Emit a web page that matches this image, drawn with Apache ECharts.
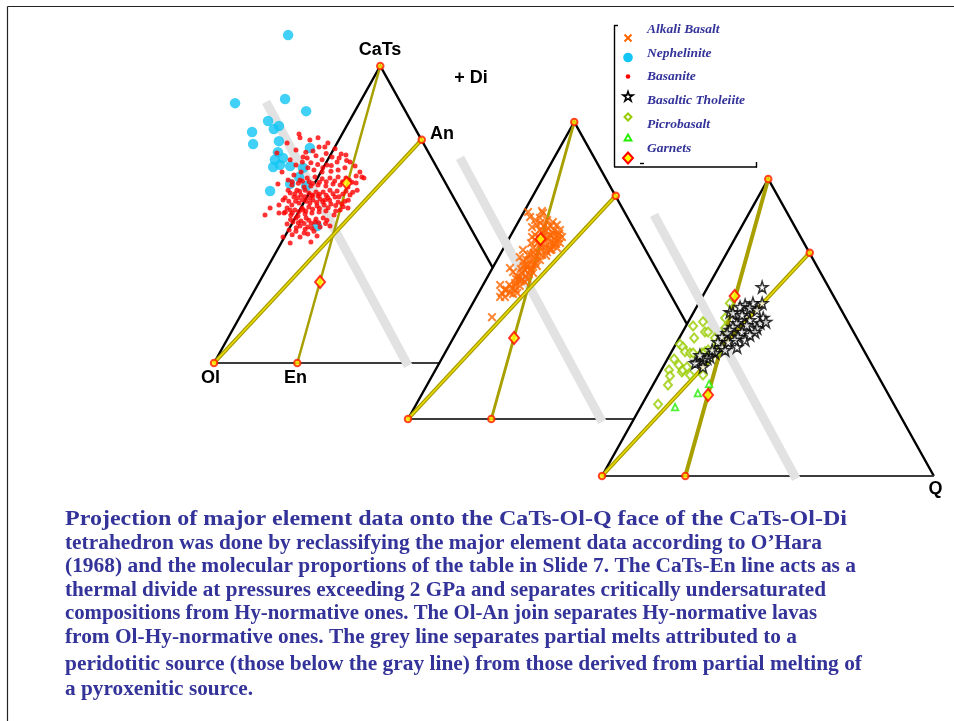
<!DOCTYPE html>
<html>
<head>
<meta charset="utf-8">
<script src="https://cdn.jsdelivr.net/npm/echarts@6/dist/echarts.min.js"></script>
<style>
  html, body { margin: 0; padding: 0; background: #fff; }
  #chart { width: 954px; height: 721px; }
</style>
</head>
<body>
<div id="chart"></div>
<script>
// Diagram-plane coordinates for the CaTs-Ol-Q projection:
// x runs along the Ol-Q base, y is the height toward the CaTs apex (0 = base, 100 = apex).
const vertexOl   = [0, 0];
const vertexQ    = [97.6, 0];
const vertexCaTs = [48.9, 100];
const vertexEn   = [24.5, 0];
const vertexAn   = [61.1, 75.2];

// Garnet compositions (plotted on each face)
const garnets = [[39.0, 60.6], [31.2, 27.3]];

// Grey divide between peridotite- and pyroxenite-derived melts
const greyDivide = [[15.3, 87.9], [57.1, -1.0]];

// Face 1: Nephelinite and Basanite
const nephelinite = [
  [21.8,110.4],[6.2,87.5],[20.9,88.9],[27.1,84.8],[15.9,81.5],[19.1,79.8],[17.6,78.8],
  [11.2,77.8],[11.5,73.7],[19.1,74.7],[18.8,71.0],[17.9,68.4],[20.3,69.0],[17.4,66.0],
  [19.4,66.7],[22.4,66.3],[26.2,65.7],[25.0,62.6],[16.5,57.9],[22.4,60.3],[27.1,59.6],
  [30.3,46.1],[28.2,72.4]
];
const basanite = [
  [25.0,77.1],[25.3,75.8],[21.5,74.1],[33.5,74.1],[18.5,70.7],[29.1,71.4],[26.2,69.4],
  [27.4,69.0],[24.1,66.7],[30.9,72.7],[35.6,72.1],[37.4,70.4],[34.7,69.4],[38.8,70.0],
  [31.8,68.4],[33.2,66.7],[36.2,67.7],[40.0,67.7],[41.5,66.3],[42.9,64.3],[43.5,62.6],
  [41.8,63.0],[38.5,65.7],[36.5,65.0],[34.4,64.6],[31.8,64.3],[29.4,65.0],[27.6,65.7],
  [25.6,64.3],[23.5,63.3],[21.8,61.6],[22.9,59.9],[25.3,61.6],[27.4,62.3],[29.7,62.6],
  [31.8,62.0],[34.1,62.3],[36.5,62.6],[38.8,62.3],[40.6,60.9],[39.4,59.3],[37.1,59.9],
  [35.0,60.3],[32.9,59.6],[30.6,59.9],[28.5,59.6],[26.5,59.3],[24.4,58.2],[22.4,57.2],
  [20.9,55.6],[23.5,55.9],[25.6,56.6],[27.9,57.2],[30.0,57.6],[32.1,57.6],[34.1,58.2],
  [36.2,57.9],[37.9,56.9],[35.6,55.9],[33.5,55.6],[31.2,55.2],[29.1,54.9],[27.1,54.5],
  [25.0,53.9],[22.9,53.2],[21.5,52.2],[23.8,51.5],[25.9,52.2],[27.9,52.5],[30.3,52.9],
  [32.4,53.2],[34.4,53.5],[36.5,54.2],[32.9,51.2],[30.9,50.8],[28.8,50.5],[26.8,50.2],
  [24.7,49.5],[22.6,49.8],[20.6,50.5],[19.1,50.5],[25.6,47.8],[27.9,48.1],[30.0,48.5],
  [32.1,48.8],[33.2,48.1],[29.7,47.5],[27.6,45.8],[25.3,46.1],[23.2,47.5],[21.5,46.8],
  [24.1,44.4],[26.5,43.8],[25.3,42.4],[20.3,42.4],[22.1,44.8],[29.4,44.4],[31.2,45.8],
  [38.5,54.5],[40.0,56.6],[42.1,58.2],[39.4,52.2],[37.1,51.5],[35.3,49.8],[20.3,54.9],
  [21.8,58.2],[19.1,53.2],[15.0,49.8],[16.5,52.2],[18.8,60.3],[20.0,64.3],[22.4,68.4],
  [24.1,71.7],[28.2,75.1],[30.6,75.8],[32.6,72.7],[44.1,62.3],[41.8,60.6],[28.5,40.7],
  [30.3,42.8],[34.1,46.1],[22.4,40.4],[26.8,58.2],[28.8,56.6],[30.6,56.2],[32.6,54.9],
  [24.7,55.6],[28.2,53.9],[26.2,51.5],[22.4,51.5],[24.1,48.8],[27.1,48.8],
  [23.0,61.0],[24.8,60.5],[26.0,61.2],[28.0,61.0],[29.0,60.4],[31.0,60.9],[33.0,61.0],
  [35.5,61.3],[37.8,61.0],[39.8,61.6],[23.8,57.0],[25.2,57.8],[26.8,56.0],[29.0,56.3],
  [31.0,56.8],[33.0,56.5],[35.0,57.0],[36.8,56.0],[38.8,57.8],[40.8,57.5],[22.0,54.5],
  [24.0,54.5],[26.0,55.0],[28.2,55.5],[30.2,54.0],[32.0,54.3],[34.0,54.8],[35.8,53.0],
  [37.6,53.5],[39.5,54.8],[21.0,50.8],[23.0,50.5],[25.0,51.0],[27.0,51.2],[29.0,51.8],
  [31.0,52.0],[33.6,52.3],[35.8,51.2],[38.0,52.6],[22.5,48.3],[24.8,47.2],[26.5,47.0],
  [28.6,47.0],[30.8,47.2],[32.8,47.0],[24.2,45.5],[26.8,45.0],[28.8,45.4],[23.0,43.2],
  [27.6,43.4],[32.0,65.7],[34.5,66.5],[30.5,66.8],[28.5,67.4],[26.0,67.7],[36.8,69.0],
  [39.0,68.2],[33.0,70.5],[30.0,69.8],[27.0,71.0]
];

// Face 2: Alkali Basalt
const alkaliBasalt = [
  [24.7,34.3],[27.1,45.1],[27.6,42.4],[27.1,41.1],[28.5,41.1],[30.0,42.4],[30.9,42.1],
  [32.1,42.4],[32.9,44.8],[31.5,44.8],[30.0,50.8],[30.9,49.5],[32.1,48.1],[33.5,49.2],
  [35.3,69.7],[35.9,68.0],[39.4,70.0],[39.7,69.4],[36.5,64.6],[37.9,65.3],[40.9,67.0],
  [42.6,66.3],[43.8,65.3],[44.7,63.6],[45.3,61.3],[44.7,59.3],[43.8,57.6],[36.5,61.3],
  [37.4,62.0],[32.9,54.5],[33.8,52.9],[35.0,51.2],[35.9,50.2],[36.8,49.2],[38.8,63.6],
  [40.3,63.0],[41.8,62.0],[40.3,60.3],[41.8,59.6],[43.2,60.3],[38.8,58.6],[40.3,57.6],
  [41.8,56.9],[38.2,56.2],[39.4,55.2],[37.4,54.2],[38.8,53.5],[35.9,53.5],[37.4,52.5],
  [35.3,51.9],[37.9,51.5],[34.4,50.2],[32.9,47.8],[32.4,46.8],[34.4,46.1],[31.5,45.8],
  [30.6,44.1],[28.5,43.4],[38.8,60.9],[42.6,58.2],[40.9,56.2],[41.2,64.3],[42.4,61.6],
  [43.5,58.9],[38.2,59.3],[36.8,57.6],[35.3,55.2],[33.8,56.9],[34.7,48.1],[38.8,67.7],
  [37.4,67.0],[33.2,46.5],[35.6,48.8],[40.0,61.6],
  [39.5,62.8],[41.0,61.0],[42.6,62.5],[44.0,61.8],[39.8,59.0],[41.5,58.0],[43.0,59.2],
  [44.3,60.8],[37.6,60.0],[39.2,57.2],[40.6,55.0],[42.2,57.0],[36.2,59.2],[37.0,56.0],
  [38.0,54.8],[36.0,55.5],[34.8,53.6],[36.6,52.0],[34.0,51.5],[36.2,50.5],[33.2,50.5],
  [31.8,47.2],[33.6,47.0],[35.0,47.2],[29.8,45.2],[29.0,43.5],[31.6,43.5],[40.0,65.0],
  [42.0,65.0],[44.5,62.5],[39.0,66.0],[43.0,63.5]
];

// Face 3: Picrobasalt, green triangles and Basaltic Tholeiite
const picrobasalt = [
  [16.5,24.2],[19.4,30.6],[19.7,35.7],[20.0,33.7],[21.2,39.4],[22.9,44.4],[23.8,43.4],
  [22.6,37.4],[23.5,35.0],[23.8,35.7],[25.0,36.7],[25.9,34.0],[24.4,41.8],[25.9,41.4],
  [26.8,41.4],[26.8,50.5],[27.1,46.5],[29.7,51.9],[30.3,48.5],[31.2,48.5],[29.4,41.4],
  [30.3,41.8],[31.2,42.4],[31.8,40.7],[29.7,34.0],[33.2,46.5],[34.1,45.1],[33.2,43.1],
  [34.1,41.8],[36.2,53.2],[37.6,58.2],[36.2,49.8],[31.2,39.1],[28.8,39.1]
];
const greenTriangles = [[21.5,23.2],[28.2,27.9],[31.5,31.0]];
const basalticTholeiite = [
  [47.1,63.6],[47.1,58.2],[44.4,58.2],[42.1,57.6],[40.6,56.9],[47.4,53.2],[46.5,51.5],
  [45.6,49.8],[45.0,48.5],[43.5,52.5],[42.6,50.8],[40.6,52.5],[39.7,51.5],[38.5,50.2],
  [37.6,49.2],[41.2,48.5],[40.0,46.8],[36.8,48.1],[35.3,46.8],[34.1,45.1],[35.3,43.4],
  [36.2,42.4],[39.7,43.4],[33.2,41.4],[31.8,40.1],[30.9,39.7],[29.7,39.1],[27.9,38.4],
  [27.4,38.0],[29.7,36.7],[37.6,55.2],[38.5,54.9],[42.6,55.2],[43.5,56.6],[48.2,51.9],
  [42.1,45.8],[43.5,47.5],[39.1,45.8],[37.1,45.1],[45.6,55.9],[41.2,54.2],[32.4,42.4],
  [28.8,40.7]
];

const legendLabels = ['Alkali Basalt', 'Nephelinite', 'Basanite', 'Basaltic Tholeiite', 'Picrobasalt', 'Garnets'];

const captionLines = [
  'Projection of major element data onto the CaTs-Ol-Q face of the CaTs-Ol-Di',
  'tetrahedron was done by reclassifying the major element data according to O\u2019Hara',
  '(1968) and the molecular proportions of the table in Slide 7. The CaTs-En line acts as a',
  'thermal divide at pressures exceeding 2 GPa and separates critically undersaturated',
  'compositions from Hy-normative ones. The Ol-An join separates Hy-normative lavas',
  'from Ol-Hy-normative ones. The grey line separates partial melts attributed to a',
  'peridotitic source (those below the gray line) from those derived from partial melting of',
  'a pyroxenitic source.'
];

// ---- layout ----
const faces = [
  { left: 214, top: 66 },
  { left: 408, top: 122 },
  { left: 602, top: 179 }
];
const FACE_W = 340, FACE_H = 297;
const olAnWidth = [4, 4, 4];
const catsEnWidth = [2.5, 2.8, 4];

// five-pointed star outline on a 20x19 box
const STAR_PTS = [[10,0],[12.4,7.2],[20,7.2],[13.8,11.6],[16.2,19],[10,14.4],[3.8,19],[6.2,11.6],[0,7.2],[7.6,7.2]];
const STAR = 'path://M' + STAR_PTS.map(function (p) { return p.join(','); }).join('L') + 'Z';
const CROSS = 'path://M0,1.6L1.6,0L5,3.4L8.4,0L10,1.6L6.6,5L10,8.4L8.4,10L5,6.6L1.6,10L0,8.4L3.4,5Z';

const series = [];

function faceOutline(i) {
  return {
    type: 'custom', xAxisIndex: i, yAxisIndex: i, z: 10 * i + 1, silent: true,
    data: [[0, 0]],
    renderItem: function (params, api) {
      const ol = api.coord(vertexOl), q = api.coord(vertexQ), c = api.coord(vertexCaTs);
      return {
        type: 'group',
        children: [
          { type: 'polygon', shape: { points: [ol, q, c] }, style: { fill: '#ffffff' } },
          { type: 'polyline', shape: { points: [ol, c, q] },
            style: { stroke: '#000', lineWidth: 2.4, fill: null } },
          { type: 'line', shape: { x1: ol[0], y1: ol[1], x2: q[0], y2: q[1] },
            style: { stroke: '#3c3c3c', lineWidth: 2 } }
        ]
      };
    }
  };
}

function segment(i, pts, color, width, z) {
  return {
    type: 'line', xAxisIndex: i, yAxisIndex: i, data: pts, symbol: 'none',
    silent: true, clip: false, z: z,
    lineStyle: { color: color, width: width, cap: 'butt' }
  };
}

function scatter(i, name, data, symbol, size, itemStyle, z) {
  return {
    type: 'scatter', name: name, xAxisIndex: i, yAxisIndex: i, data: data,
    symbol: symbol, symbolSize: size, itemStyle: itemStyle, clip: false, z: z, silent: true
  };
}

const faceSamples = [
  [
    ['Nephelinite', nephelinite, 'circle', 10.5, { color: '#12c5f4' }],
    ['Basanite', basanite, 'circle', 5, { color: '#ff0000' }]
  ],
  [
    ['Alkali Basalt', alkaliBasalt, CROSS, 9, { color: '#ff6600' }]
  ],
  [
    ['Picrobasalt', picrobasalt, 'diamond', [8, 9], { color: '#ffffff', borderColor: '#99cc00', borderWidth: 2 }],
    ['Green', greenTriangles, 'triangle', 6.5, { color: '#ffffff', borderColor: '#22ee00', borderWidth: 1.8 }],
    ['Basaltic Tholeiite', basalticTholeiite, STAR, 11.5, { color: '#ffffff', borderColor: '#000', borderWidth: 1.5 }]
  ]
];

faces.forEach(function (f, i) {
  const base = 10 * i;
  series.push(faceOutline(i));
  series.push(segment(i, greyDivide, '#e2e2e2', 9, base + 2));
  series.push(segment(i, [vertexCaTs, vertexEn], '#a8a000', catsEnWidth[i], base + 3));
  series.push(segment(i, [vertexOl, vertexAn], '#a49c00', olAnWidth[i], base + 3));
  series.push(segment(i, [vertexOl, vertexAn], '#eedd00', 1.4, base + 3));
  faceSamples[i].forEach(function (s, k) {
    series.push(scatter(i, s[0], s[1], s[2], s[3], s[4], base + 4 + k * 0.1));
  });
  series.push(scatter(i, 'vertices', [vertexOl, vertexEn, vertexCaTs, vertexAn], 'circle', 6.5,
    { color: '#ffee00', borderColor: '#ff1a00', borderWidth: 2 }, base + 5));
  series.push(scatter(i, 'Garnets', garnets, 'diamond', [10, 12],
    { color: '#ffff00', borderColor: '#ff0000', borderWidth: 2 }, base + 6));
});

// ---- text, frame and key ----
const TEXT_BLUE = '#333399';
const graphic = [];

// page frame
graphic.push({ type: 'line', shape: { x1: 7.5, y1: 6.5, x2: 954, y2: 6.5 }, style: { stroke: '#222', lineWidth: 1.2 }, z: 100 });
graphic.push({ type: 'line', shape: { x1: 7.5, y1: 6.5, x2: 7.5, y2: 721 }, style: { stroke: '#222', lineWidth: 1.2 }, z: 100 });

// vertex names
const vertexNames = [
  ['CaTs', 380, 50], ['+ Di', 471, 78], ['An', 442, 134],
  ['Ol', 210.5, 378], ['En', 295.5, 378], ['Q', 935.5, 489]
];
vertexNames.forEach(function (v) {
  graphic.push({ type: 'text', z: 100,
    style: { text: v[0], x: v[1], y: v[2], font: 'bold 18px "Liberation Sans", Arial, sans-serif',
      fill: '#000', textAlign: 'center', textVerticalAlign: 'middle', align: 'center', verticalAlign: 'middle' } });
});

// key box
[[614.5, 25, 614.5, 167], [614, 167, 757, 167], [756.5, 162, 756.5, 167.5], [614, 25.5, 618, 25.5], [640, 163.5, 644, 163.5]]
  .forEach(function (l) {
    graphic.push({ type: 'line', z: 100, shape: { x1: l[0], y1: l[1], x2: l[2], y2: l[3] },
      style: { stroke: '#000', lineWidth: 1.4 } });
  });
const keyLabelY = [30, 54, 77, 101, 125, 149];
legendLabels.forEach(function (t, k) {
  graphic.push({ type: 'text', z: 100,
    style: { text: t, x: 647, y: keyLabelY[k], font: 'italic bold 13.5px "Liberation Serif", "Times New Roman", serif',
      fill: TEXT_BLUE, textAlign: 'left', textVerticalAlign: 'middle', align: 'left', verticalAlign: 'middle' } });
});
// key glyphs
graphic.push({ type: 'line', z: 100, shape: { x1: 624.5, y1: 34.5, x2: 631.5, y2: 41.5 }, style: { stroke: '#ff6600', lineWidth: 2 } });
graphic.push({ type: 'line', z: 100, shape: { x1: 631.5, y1: 34.5, x2: 624.5, y2: 41.5 }, style: { stroke: '#ff6600', lineWidth: 2 } });
graphic.push({ type: 'circle', z: 100, shape: { cx: 628, cy: 57.5, r: 4.8 }, style: { fill: '#12c5f4' } });
graphic.push({ type: 'circle', z: 100, shape: { cx: 628, cy: 76.5, r: 2.3 }, style: { fill: '#ff0000' } });
graphic.push({ type: 'polygon', z: 100,
  shape: { points: STAR_PTS.map(function (p) { return [623 + p[0] * 0.5, 91.5 + p[1] * 0.5]; }) },
  style: { fill: '#fff', stroke: '#000', lineWidth: 1.6 } });
graphic.push({ type: 'polygon', z: 100, shape: { points: [[628, 113.5], [631.5, 117], [628, 120.5], [624.5, 117]] }, style: { fill: '#fff', stroke: '#99cc00', lineWidth: 2 } });
graphic.push({ type: 'polygon', z: 100, shape: { points: [[628, 134.5], [631.5, 140.5], [624.5, 140.5]] }, style: { fill: '#fff', stroke: '#22ee00', lineWidth: 1.8 } });
graphic.push({ type: 'polygon', z: 100, shape: { points: [[628, 152.5], [633, 158], [628, 163.5], [623, 158]] }, style: { fill: '#ffff00', stroke: '#ff0000', lineWidth: 2 } });

// caption: each line is stretched to its own set width
const CAPTION_FONT = 'bold 20px "Liberation Serif", "Times New Roman", serif';
const CAPTION_LEFT = 65;
const captionY = [520, 544, 567, 591, 614, 638, 665, 690];
const captionRight = [847, 822, 856, 826, 817, 797, 862, 253];
const measure = document.createElement('canvas').getContext('2d');
measure.font = CAPTION_FONT;
captionLines.forEach(function (t, k) {
  const natural = measure.measureText(t).width;
  const sx = (captionRight[k] - CAPTION_LEFT) / natural;
  graphic.push({ type: 'text', z: 100, x: CAPTION_LEFT, y: captionY[k], scaleX: sx,
    style: { text: t, x: 0, y: 0, font: CAPTION_FONT,
      fill: TEXT_BLUE, textAlign: 'left', textVerticalAlign: 'middle', align: 'left', verticalAlign: 'middle' } });
});

const chart = echarts.init(document.getElementById('chart'), null, { renderer: 'canvas' });
chart.setOption({
  backgroundColor: '#ffffff',
  animation: false,
  grid: faces.map(function (f) {
    return { left: f.left, top: f.top, width: FACE_W, height: FACE_H, containLabel: false };
  }),
  xAxis: faces.map(function (f, i) {
    return { type: 'value', gridIndex: i, min: 0, max: 100, show: false };
  }),
  yAxis: faces.map(function (f, i) {
    return { type: 'value', gridIndex: i, min: 0, max: 100, show: false };
  }),
  series: series,
  graphic: { elements: graphic }
});
</script>
</body>
</html>
